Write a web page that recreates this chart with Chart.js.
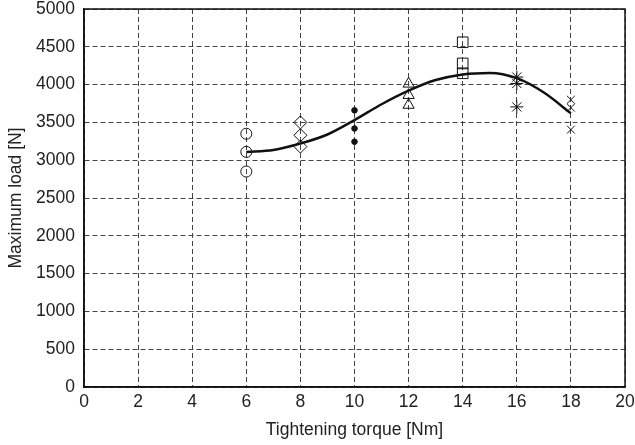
<!DOCTYPE html>
<html>
<head>
<meta charset="utf-8">
<script src="https://cdn.jsdelivr.net/npm/chart.js@4.4.0/dist/chart.umd.min.js"></script>
<style>
html,body{margin:0;padding:0;background:#fff;}
#wrap{width:635px;height:445px;}
</style>
</head>
<body>
<div id="wrap"><canvas id="c" width="635" height="445"></canvas></div>
<script>
// Measured points (torque [Nm] -> maximum load [N])
const circleTorque = [6, 6, 6];
const circleLoad = [3350, 3110, 2850];
const diamondTorque = [8, 8, 8];
const diamondLoad = [3500, 3330, 3180];
const dotTorque = [10, 10, 10];
const dotLoad = [3660, 3420, 3245];
const triangleTorque = [12, 12, 12];
const triangleLoad = [4010, 3860, 3730];
const squareTorque = [14, 14, 14];
const squareLoad = [4560, 4280, 4150];
const starTorque = [16, 16, 16];
const starLoad = [4100, 4015, 3705];
const crossTorque = [18, 18, 18];
const crossLoad = [3800, 3695, 3405];

// Fitted trend curve
const curveTorque = [6, 7, 8, 9, 10, 11, 12, 13, 14, 15, 16, 17, 18];
const curveLoad = [3110, 3135, 3220, 3340, 3530, 3740, 3920, 4060, 4135, 4155, 4085, 3895, 3620];

const xTicks = [0, 2, 4, 6, 8, 10, 12, 14, 16, 18, 20];
const yTicks = [0, 500, 1000, 1500, 2000, 2500, 3000, 3500, 4000, 4500, 5000];

const pts = (xs, ys) => xs.map((x, i) => ({x: x, y: ys[i]}));

function markerSet(xs, ys, style, radius, filled) {
  return {
    type: 'scatter',
    data: pts(xs, ys),
    pointStyle: style,
    pointRadius: radius,
    pointBorderWidth: 1,
    pointBorderColor: '#111',
    pointBackgroundColor: filled ? '#111' : 'rgba(255,255,255,0)',
    showLine: false,
    order: 2
  };
}

const FONT = {family: '"Liberation Sans", Arial, sans-serif', size: 17.5};

const framePlugin = {
  id: 'frame',
  afterDraw(chart) {
    const a = chart.chartArea, ctx = chart.ctx;
    ctx.save();
    ctx.strokeStyle = '#111';
    ctx.lineWidth = 1.5;
    ctx.strokeRect(a.left, a.top, a.right - a.left, a.bottom - a.top);
    ctx.restore();
  }
};

new Chart(document.getElementById('c'), {
  data: {
    datasets: [
      {
        type: 'line',
        data: pts(curveTorque, curveLoad),
        borderColor: '#111',
        borderWidth: 2.5,
        pointRadius: 0,
        fill: false,
        cubicInterpolationMode: 'monotone',
        order: 1
      },
      markerSet(circleTorque, circleLoad, 'circle', 5.5, false),
      markerSet(diamondTorque, diamondLoad, 'rectRot', 6.5, false),
      markerSet(dotTorque, dotLoad, 'circle', 2.8, true),
      markerSet(triangleTorque, triangleLoad, 'triangle', 6.5, false),
      markerSet(squareTorque, squareLoad, 'rect', 7.5, false),
      markerSet(starTorque, starLoad, 'star', 6.5, false),
      markerSet(crossTorque, crossLoad, 'crossRot', 5.5, false)
    ]
  },
  options: {
    responsive: false,
    animation: false,
    events: [],
    layout: {padding: {top: 9, right: 10, left: 0, bottom: 0}},
    plugins: {legend: {display: false}, tooltip: {enabled: false}},
    scales: {
      x: {
        type: 'linear',
        min: 0, max: 20,
        afterBuildTicks(s) { s.ticks = xTicks.map(v => ({value: v})); },
        afterFit(s) { s.height = 58; s.paddingLeft = 0; s.paddingRight = 0; },
        grid: {color: '#444', lineWidth: 1, drawTicks: false},
        border: {display: true, color: '#111', width: 1.5, dash: [5, 3]},
        ticks: {color: '#222', font: FONT, padding: 5, maxRotation: 0, callback: v => String(v)},
        title: {display: true, text: 'Tightening torque [Nm]', color: '#222', font: FONT, padding: {top: 0, bottom: 4}}
      },
      y: {
        type: 'linear',
        min: 0, max: 5000,
        afterBuildTicks(s) { s.ticks = yTicks.map(v => ({value: v})); },
        afterFit(s) { s.width = 84; s.paddingTop = 0; s.paddingBottom = 0; },
        grid: {color: '#444', lineWidth: 1, drawTicks: false},
        border: {display: true, color: '#111', width: 1.5, dash: [5, 3]},
        ticks: {color: '#222', font: FONT, padding: 9, callback: v => String(v)},
        title: {display: true, text: 'Maximum load [N]', color: '#222', font: FONT, padding: {top: 6, bottom: 4}}
      }
    }
  },
  plugins: [framePlugin]
});
</script>
</body>
</html>
